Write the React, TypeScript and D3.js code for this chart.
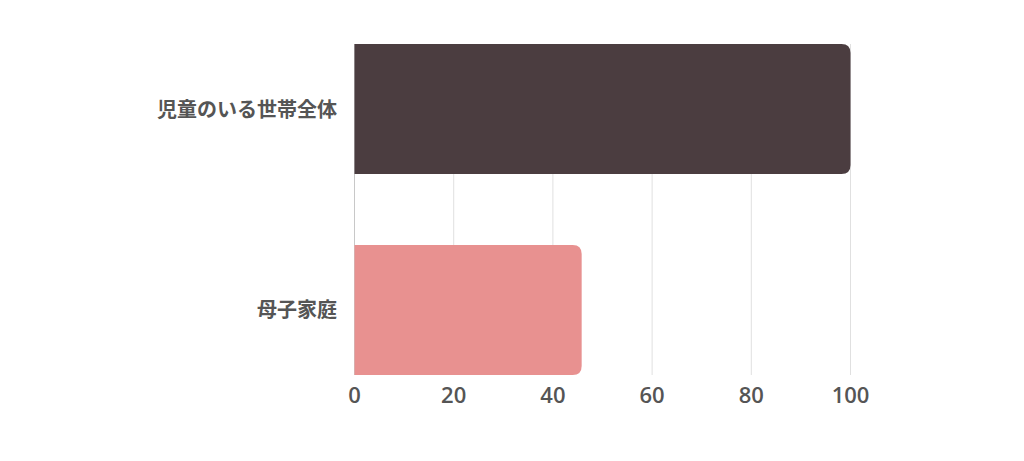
import { scaleBand, scaleLinear } from 'd3'

const WIDTH = 1024
const HEIGHT = 461
const PLOT = { left: 354.5, right: 850.5, top: 44, bottom: 375 }

const categories = ['児童のいる世帯全体', '母子家庭']
const values = [100, 45.8]
const colors = ['#4b3d40', '#e89190']
const ticks = [0, 20, 40, 60, 80, 100]

const FONT = '"Open Sans", "Noto Sans CJK JP", sans-serif'

function barPath(x0: number, x1: number, y0: number, h: number, r: number) {
  const rr = Math.min(r, (x1 - x0) / 2, h / 2)
  return `M${x0},${y0}H${x1 - rr}Q${x1},${y0} ${x1},${y0 + rr}V${y0 + h - rr}Q${x1},${y0 + h} ${x1 - rr},${y0 + h}H${x0}Z`
}

export default function App() {
  const x = scaleLinear().domain([0, 100]).range([PLOT.left, PLOT.right])
  const y = scaleBand<string>()
    .domain(categories)
    .range([PLOT.top, PLOT.bottom])
    .paddingInner(0.353)
    .paddingOuter(0)

  return (
    <svg
      width={WIDTH}
      height={HEIGHT}
      viewBox={`0 0 ${WIDTH} ${HEIGHT}`}
      style={{ position: 'absolute', left: 0, top: 0, background: '#fff' }}
    >
      {ticks.map((t) => (
        <line
          key={`g${t}`}
          x1={x(t)}
          x2={x(t)}
          y1={PLOT.top}
          y2={PLOT.bottom}
          stroke={t === 0 ? '#c8c8c8' : '#e0e0e0'}
          strokeWidth={1}
        />
      ))}
      {categories.map((c, i) => (
        <path
          key={c}
          d={barPath(x(0), x(values[i]), y(c) ?? 0, y.bandwidth(), 9)}
          fill={colors[i]}
        />
      ))}
      {categories.map((c) => (
        <text
          key={`l${c}`}
          x={337}
          y={(y(c) ?? 0) + y.bandwidth() / 2}
          textAnchor="end"
          dominantBaseline="central"
          fontFamily={FONT}
          fontWeight={700}
          fontSize={20}
          fill="#555"
        >
          {c}
        </text>
      ))}
      {ticks.map((t) => (
        <text
          key={`t${t}`}
          x={x(t)}
          y={394}
          textAnchor="middle"
          dominantBaseline="central"
          fontFamily={FONT}
          fontWeight={600}
          fontSize={22}
          fill="#555"
        >
          {t}
        </text>
      ))}
    </svg>
  )
}
